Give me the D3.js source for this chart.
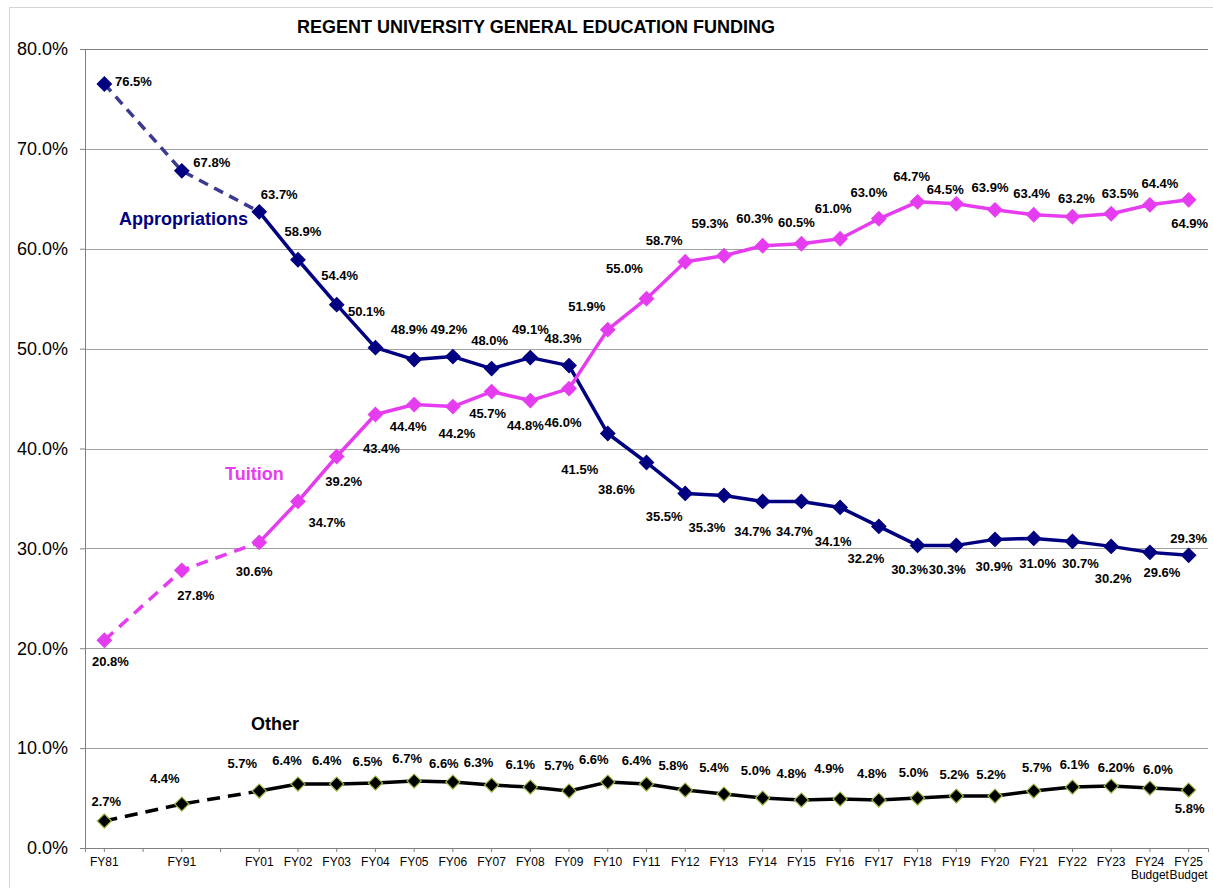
<!DOCTYPE html>
<meta charset="utf-8">

<style>

body { margin: 0; background: #fff; }

.title {
  font: bold 18px "Liberation Sans", Arial, sans-serif;
}

.y-axis text {
  font: 18px "Liberation Sans", Arial, sans-serif;
  fill: #000;
}

.x-axis text {
  font: 12px "Liberation Sans", Arial, sans-serif;
  fill: #000;
}

.axis path, .axis line {
  stroke: #808080;
  stroke-width: 1px;
}

.grid line {
  stroke: #a0a0a0;
  stroke-width: 1px;
}

.label {
  font: bold 13px "Liberation Sans", Arial, sans-serif;
  fill: #000;
}

.series-name {
  font: bold 18px "Liberation Sans", Arial, sans-serif;
}

</style>

<body>

<script src="https://cdnjs.cloudflare.com/ajax/libs/d3/7.8.5/d3.min.js"></script>

<script>

// axis slots -- the two blanks are empty categories on the original axis
var categories = ["FY81", "", "FY91", "", "FY01", "FY02", "FY03", "FY04", "FY05", "FY06",
  "FY07", "FY08", "FY09", "FY10", "FY11", "FY12", "FY13", "FY14", "FY15", "FY16",
  "FY17", "FY18", "FY19", "FY20", "FY21", "FY22", "FY23", "FY24", "FY25"];

var years = categories.filter(function(c) { return c !== ""; });

var subLabels = {"FY24": "Budget", "FY25": "Budget"};

var appropriations = [76.5, 67.8, 63.7, 58.9, 54.4, 50.1, 48.9, 49.2, 48.0, 49.1, 48.3,
  41.5, 38.6, 35.5, 35.3, 34.7, 34.7, 34.1, 32.2, 30.3, 30.3, 30.9, 31.0, 30.7, 30.2, 29.6, 29.3];

var tuition = [20.8, 27.8, 30.6, 34.7, 39.2, 43.4, 44.4, 44.2, 45.7, 44.8, 46.0,
  51.9, 55.0, 58.7, 59.3, 60.3, 60.5, 61.0, 63.0, 64.7, 64.5, 63.9, 63.4, 63.2, 63.5, 64.4, 64.9];

var other = [2.7, 4.4, 5.7, 6.4, 6.4, 6.5, 6.7, 6.6, 6.3, 6.1, 5.7,
  6.6, 6.4, 5.8, 5.4, 5.0, 4.8, 4.9, 4.8, 5.0, 5.2, 5.2, 5.7, 6.1, 6.2, 6.0, 5.8];

// label text that differs from the plain one-decimal format
var otherLabelText = {"FY23": "6.20%"};

var yTicks = [0, 10, 20, 30, 40, 50, 60, 70, 80];

// where each data label sits relative to its marker [dx, dy]
var apOffsets = [[29,-3],[30,-9],[20,-17],[5,-28],[3,-29],[-9,-36],[-5,-30],[-4,-27],[-2,-28],[0,-28],[-6,-27],
  [-28,36],[-30,27],[-21,23],[-17,32],[-10,30],[-7,30],[-7,34],[-13,32],[-8,24],[-9,24],[-1,27],[4,25],[8,22],[2,32],[12,20],[0,-17]];
var tuOffsets = [[6,21],[14,25],[-5,29],[29,21],[7,25],[6,34],[-6,22],[4,27],[-4,22],[-5,25],[-6,34],
  [-21,-23],[-22,-30],[-21,-21],[-14,-32],[-8,-27],[-5,-21],[-7,-30],[-10,-26],[-6,-25],[-11,-14],[-5,-22],[-2,-21],[4,-18],[9,-20],[10,-21],[1,24]];
var otOffsets = [[2,-20],[-17,-26],[-17,-28],[-11,-24],[-10,-24],[-8,-22],[-7,-23],[-9,-19],[-13,-23],[-10,-23],[-10,-26],
  [-14,-23],[-10,-24],[-12,-25],[-10,-27],[-7,-28],[-10,-27],[-11,-31],[-7,-27],[-4,-26],[-2,-22],[-4,-22],[3,-24],[2,-23],[5,-19],[8,-19],[1,18]];

var width = 1213,
    height = 888,
    plot = {left: 85, right: 1208, top: 49, bottom: 848};

var svg = d3.select("body").append("svg")
    .attr("width", width)
    .attr("height", height);

// outer chart border (only top and left are in the picture)
svg.append("rect")
    .attr("x", 9.5)
    .attr("y", 7.5)
    .attr("width", 1400)
    .attr("height", 1000)
    .attr("fill", "none")
    .attr("stroke", "#d4d4d4");

var x = d3.scaleBand()
    .domain(d3.range(categories.length))
    .range([plot.left, plot.right]);

var y = d3.scaleLinear()
    .domain([0, 80])
    .range([plot.bottom, plot.top]);

function xPos(year) {
  return x(categories.indexOf(year)) + x.bandwidth() / 2;
}

// gridlines
svg.append("g")
    .attr("class", "grid")
  .selectAll("line")
    .data(yTicks.filter(function(d) { return d > 0; }))
  .enter().append("line")
    .attr("x1", plot.left)
    .attr("x2", plot.right)
    .attr("y1", function(d) { return Math.round(y(d)) + 0.5; })
    .attr("y2", function(d) { return Math.round(y(d)) + 0.5; })
    .style("stroke", function(d) { return d === 80 ? "#808080" : null; });

svg.append("g")
    .attr("class", "axis y-axis")
    .attr("transform", "translate(" + plot.left + ",0)")
    .call(d3.axisLeft(y)
      .tickValues(yTicks)
      .tickSize(5)
      .tickPadding(12)
      .tickFormat(function(d) { return d.toFixed(1) + "%"; }));

var xAxis = svg.append("g")
    .attr("class", "axis x-axis")
    .attr("transform", "translate(0," + plot.bottom + ")")
    .call(d3.axisBottom(x)
      .tickSize(4)
      .tickSizeOuter(4)
      .tickPadding(5)
      .tickFormat(function(i) { return categories[i]; }));

// second line under the budget years
xAxis.selectAll(".tick text").each(function(i) {
  var sub = subLabels[categories[i]];
  if (sub) {
    d3.select(this).append("tspan")
        .attr("x", 0)
        .attr("dy", "1.15em")
        .text(sub);
  }
});

svg.append("text")
    .attr("class", "title")
    .attr("x", 297)
    .attr("y", 33)
    .text("REGENT UNIVERSITY GENERAL EDUCATION FUNDING");

var series = [
  {name: "Appropriations", values: appropriations, offsets: apOffsets, color: "#000080", dashColor: "#3a3a90",
   markerFill: "#000080", markerStroke: "#000080", dash: "10,7", nameX: 119, nameY: 225},
  {name: "Tuition", values: tuition, offsets: tuOffsets, color: "#e63cf0", dashColor: "#e63cf0",
   markerFill: "#e63cf0", markerStroke: "#e63cf0", dash: "12,8", nameX: 225, nameY: 480},
  {name: "Other", values: other, offsets: otOffsets, color: "#000", dashColor: "#000",
   markerFill: "#000", markerStroke: "#9bbb45", dash: "13,8", nameX: 251, nameY: 730, nameColor: "#000"}
];

var line = d3.line()
    .x(function(d) { return xPos(d.year); })
    .y(function(d) { return y(d.value); });

var diamond = d3.symbol().type(d3.symbolSquare).size(100);

series.forEach(function(s) {
  var pts = years.map(function(yr, i) {
    return {year: yr, value: s.values[i], off: s.offsets[i]};
  });
  var g = svg.append("g");

  // older years (FY81 - FY01) are drawn dashed
  g.append("path")
      .attr("d", line(pts.slice(0, 3)))
      .attr("fill", "none")
      .attr("stroke", s.dashColor)
      .attr("stroke-width", 3.5)
      .attr("stroke-dasharray", s.dash);

  g.append("path")
      .attr("d", line(pts.slice(2)))
      .attr("fill", "none")
      .attr("stroke", s.color)
      .attr("stroke-width", 3.5)
      .attr("stroke-linejoin", "round");

  g.selectAll(".marker")
      .data(pts)
    .enter().append("path")
      .attr("class", "marker")
      .attr("d", diamond)
      .attr("transform", function(d) {
        return "translate(" + xPos(d.year) + "," + y(d.value) + ") rotate(45)";
      })
      .attr("fill", s.markerFill)
      .attr("stroke", s.markerStroke)
      .attr("stroke-width", 1.2);

  g.selectAll(".label")
      .data(pts)
    .enter().append("text")
      .attr("class", "label")
      .attr("x", function(d) { return xPos(d.year) + d.off[0]; })
      .attr("y", function(d) { return y(d.value) + d.off[1]; })
      .attr("dy", "0.36em")
      .attr("text-anchor", "middle")
      .text(function(d) {
        if (s.name === "Other" && otherLabelText[d.year]) return otherLabelText[d.year];
        return d.value.toFixed(1) + "%";
      });

  svg.append("text")
      .attr("class", "series-name")
      .attr("x", s.nameX)
      .attr("y", s.nameY)
      .attr("fill", s.nameColor || s.color)
      .text(s.name);
});

</script>

</body>
